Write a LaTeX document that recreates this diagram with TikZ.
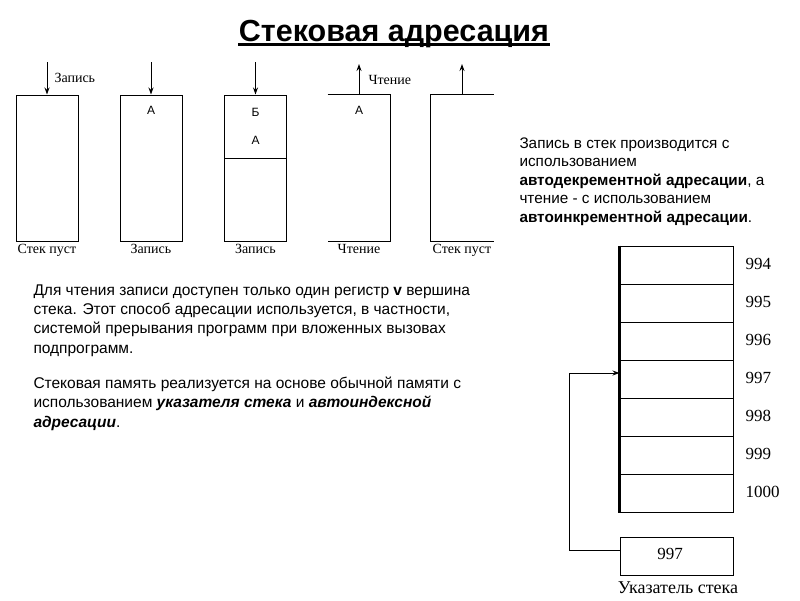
\documentclass[tikz,border=0pt]{standalone}
\usepackage{fontspec}
\setmainfont{Liberation Sans}
\newfontfamily\seriffont{Liberation Serif}
\usetikzlibrary{arrows.meta}
\begin{document}
\begin{tikzpicture}[x=1pt,y=-1pt, line width=1pt,
  arr/.style={-{Stealth[length=7pt,width=5pt]}},
  stk/.style={minimum width=62pt, minimum height=146pt, inner sep=0pt},
  lbl/.style={font=\seriffont\fontsize{14}{14}\selectfont, inner sep=0pt},
  item/.style={font=\fontsize{12}{12}\selectfont, inner sep=0pt},
  cell/.style={draw, minimum width=113pt, minimum height=38pt, inner sep=0pt},
  num/.style={font=\seriffont\fontsize{17}{17}\selectfont, anchor=west, inner sep=0pt},
  para/.style={font=\fontsize{15.5}{19.4}\selectfont, align=left, anchor=north west, inner sep=0pt}]
\useasboundingbox[fill=white] (0,0) rectangle (800,600);

% title
\node[font=\bfseries\fontsize{30.5}{30.5}\selectfont, inner sep=0pt, anchor=base] (title) at (394,41) {Стековая адресация};
\draw[line width=2.5pt] ([yshift=-3.5pt]title.base west) -- ([yshift=-3.5pt]title.base east);

% stacks
\node[stk, draw] (s1) at (47,168) {};
\node[stk, draw] (s2) at (151,168) {};
\node[stk, draw] (s3) at (255.5,168) {};
\node[stk] (s4) at (359,168) {};
\node[stk] (s5) at (462,168) {};
\draw (s4.north west) -- (s4.north east) -- (s4.south east) -- (s4.south west);
\draw (s5.north east) -- (s5.north west) -- (s5.south west) -- (s5.south east);
\draw (s3.west |- 0,158) -- (s3.east |- 0,158);

\coordinate (a1) at (47,62);
\coordinate (a2) at (151,62);
\coordinate (a3) at (255.5,62);
\coordinate (a4) at (359,64);
\coordinate (a5) at (462,64);
\draw[arr] (a1) -- (s1.north);
\draw[arr] (a2) -- (s2.north);
\draw[arr] (a3) -- (s3.north);
\draw[arr] (s4.north) -- (a4);
\draw[arr] (s5.north) -- (a5);

\node[lbl, anchor=west] (w1) at (54,78) {Запись};
\node[lbl, anchor=west] (r1) at (368,80) {Чтение};

\node[item] (i2) at (151,110) {А};
\node[item] (i3b) at (255.5,112) {Б};
\node[item] (i3a) at (255.5,140) {А};
\node[item] (i4) at (359,110) {А};

\node[lbl, anchor=base] (b1) at (47,253) {Стек пуст};
\node[lbl, anchor=base] (b2) at (151,253) {Запись};
\node[lbl, anchor=base] (b3) at (255.5,253) {Запись};
\node[lbl, anchor=base] (b4) at (359,253) {Чтение};
\node[lbl, anchor=base] (b5) at (462,253) {Стек пуст};

% right text
\node[para, font=\fontsize{15.3}{18.5}\selectfont] (rt) at (519,137) {Запись в стек производится с\\
использованием\\
\textbf{автодекрементной адресации}, а\\
чтение - с использованием\\
\textbf{автоинкрементной адресации}.};

% left text
\node[para] (lt) at (33,284) {Для чтения записи доступен только один регистр \textbf{v} вершина\\
стека. Этот способ адресации используется, в частности,\\
системой прерывания программ при вложенных вызовах\\
подпрограмм.\\[15.5pt]
Стековая память реализуется на основе обычной памяти с\\
использованием \textbf{\textit{указателя стека}} и \textbf{\textit{автоиндексной}}\\
\textbf{\textit{адресации}}.};

% memory
\foreach \i/\n in {1/994,2/995,3/996,4/997,5/998,6/999,7/1000}{
  \node[cell] (m\i) at (676.5,{265+38*(\i-1)}) {};
  \node[num] (n\i) at (745,{263.5+38*(\i-1)}) {\n};
}
\draw[line width=2.2pt] (m1.north west) -- (m7.south west);

\node[cell] (ptr) at (676.5,556) {};
\node[num, anchor=center] (ptrv) at (670,554) {997};
\node[lbl, font=\seriffont\fontsize{18}{18}\selectfont] (ptrl) at (678,588) {Указатель стека};

\coordinate (bend) at (569,550);
\draw[arr] ([yshift=6pt]ptr.west) -- (bend) |- ([yshift=6pt]m4.west);
\end{tikzpicture}
\end{document}
